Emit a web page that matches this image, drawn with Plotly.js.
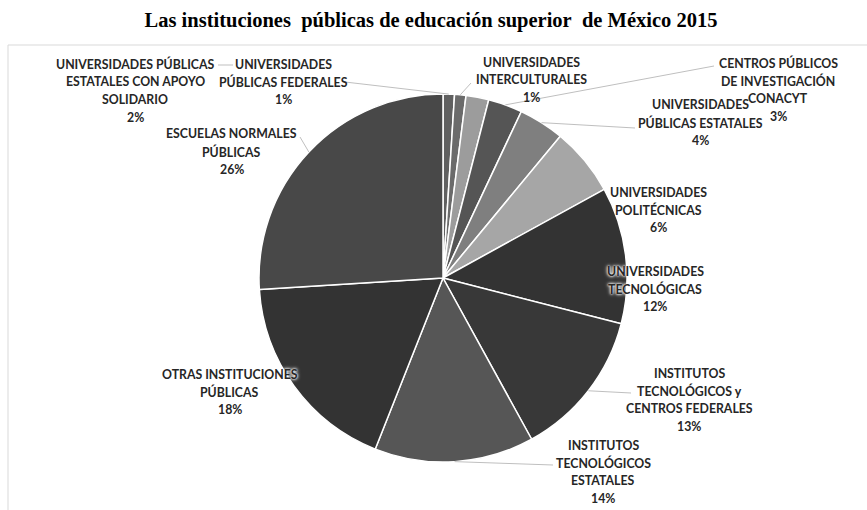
<!DOCTYPE html>
<html><head><meta charset="utf-8">
<script src="https://cdn.plot.ly/plotly-3.0.1.min.js"></script>
<style>html,body{margin:0;padding:0;background:#fff}#chart{width:867px;height:510px}</style>
</head><body><div id="chart"></div><script>
// ---- data ----
const categories = [
  'UNIVERSIDADES PÚBLICAS FEDERALES',
  'UNIVERSIDADES INTERCULTURALES',
  'UNIVERSIDADES PÚBLICAS ESTATALES CON APOYO SOLIDARIO',
  'CENTROS PÚBLICOS DE INVESTIGACIÓN CONACYT',
  'UNIVERSIDADES PÚBLICAS ESTATALES',
  'UNIVERSIDADES POLITÉCNICAS',
  'UNIVERSIDADES TECNOLÓGICAS',
  'INSTITUTOS TECNOLÓGICOS y CENTROS FEDERALES',
  'INSTITUTOS TECNOLÓGICOS ESTATALES',
  'OTRAS INSTITUCIONES PÚBLICAS',
  'ESCUELAS NORMALES PÚBLICAS'
];
const values = [1, 1, 2, 3, 4, 6, 12, 13, 14, 18, 26];
const labelLines = [
  ['UNIVERSIDADES', 'PÚBLICAS FEDERALES'],
  ['UNIVERSIDADES', 'INTERCULTURALES'],
  ['UNIVERSIDADES PÚBLICAS', 'ESTATALES CON APOYO', 'SOLIDARIO'],
  ['CENTROS PÚBLICOS', 'DE INVESTIGACIÓN', 'CONACYT'],
  ['UNIVERSIDADES', 'PÚBLICAS ESTATALES'],
  ['UNIVERSIDADES', 'POLITÉCNICAS'],
  ['UNIVERSIDADES', 'TECNOLÓGICAS'],
  ['INSTITUTOS', 'TECNOLÓGICOS y', 'CENTROS FEDERALES'],
  ['INSTITUTOS', 'TECNOLÓGICOS', 'ESTATALES'],
  ['OTRAS INSTITUCIONES', 'PÚBLICAS'],
  ['ESCUELAS NORMALES', 'PÚBLICAS']
];
const titleText = 'Las instituciones\u00A0 públicas de educación superior\u00A0 de México 2015';

// ---- style / layout ----
const W = 867, H = 510;
const CX = 443, CY = 278, R = 184;
const colors = ['#606060','#6b6b6b','#9c9c9c','#555555','#7f7f7f','#a6a6a6',
                '#333333','#383838','#565656','#333333','#484848'];
// label block positions (center x, first line y) in pixels
const labelPos = [[283,64],[531,62],[135,64],[778,63],[700,105],[658,192],
                  [655,271],[689,373],[603,445],[230,374],[232,134]];
// label-side end of leader lines (null = no leader)
const leaderFrom = [[345,82],[471,83],null,[714,66],[635,128],null,
                    null,[631,393],[553,465],null,[300,137]];
const haloed = [6, 9];
const LINE = 17.7;

const px = x => x / W, py = y => 1 - y / H;
const total = values.reduce((a, b) => a + b, 0);
let cum = 0;
const mids = values.map(v => { const m = (cum + v / 2) / total; cum += v; return m; });
const arcPoint = f => { const a = f * 2 * Math.PI; return [CX + R * Math.sin(a), CY - R * Math.cos(a)]; };

const annotations = [];
const shapes = [];
categories.forEach((c, i) => {
  const lines = labelLines[i].concat([Math.round(values[i] / total * 100) + '%']);
  const [lx, ly] = labelPos[i];
  lines.forEach((t, k) => {
    annotations.push({
      xref: 'paper', yref: 'paper', x: px(lx), y: py(ly + k * LINE),
      xanchor: 'center', yanchor: 'middle', showarrow: false, text: t,
      font: {family: 'Lato, "Open Sans", sans-serif', size: 12.3, weight: 700, color: '#262626',
             shadow: haloed.includes(i) ? '0 0 2px #fff, 0 0 3px #fff, 0 0 4px #fff' : 'none'}
    });
  });
  if (leaderFrom[i]) {
    const [ex, ey] = arcPoint(mids[i]);
    shapes.push({type: 'line', xref: 'paper', yref: 'paper',
      x0: px(leaderFrom[i][0]), y0: py(leaderFrom[i][1]), x1: px(ex), y1: py(ey),
      line: {color: '#bfbfbf', width: 1}});
  }
});
// short leader for the "apoyo solidario" label
shapes.push({type: 'line', xref: 'paper', yref: 'paper', x0: px(218), y0: py(65), x1: px(233), y1: py(65),
  line: {color: '#bfbfbf', width: 1}});
// chart border (top and left)
shapes.push({type: 'line', xref: 'paper', yref: 'paper', x0: px(8), y0: py(45), x1: 1.01, y1: py(45),
  line: {color: '#d9d9d9', width: 1}});
shapes.push({type: 'line', xref: 'paper', yref: 'paper', x0: px(8), y0: py(45), x1: px(8), y1: -0.01,
  line: {color: '#d9d9d9', width: 1}});

const trace = {
  type: 'pie', labels: categories, values: values, sort: false, direction: 'clockwise', rotation: 0,
  marker: {colors: colors, line: {color: '#ffffff', width: 1.5}},
  textinfo: 'none', hoverinfo: 'none', showlegend: false,
  domain: {x: [px(CX - R), px(CX + R)], y: [py(CY + R), py(CY - R)]}
};

const layout = {
  width: W, height: H, margin: {l: 0, r: 0, t: 0, b: 0},
  paper_bgcolor: '#ffffff', plot_bgcolor: '#ffffff', showlegend: false,
  title: {text: titleText, x: 431 / W, xanchor: 'center', y: 1 - 20 / H, yanchor: 'middle',
          font: {family: '"Liberation Serif", "Times New Roman", serif', size: 20.5, weight: 700, color: '#000000'}},
  annotations: annotations, shapes: shapes
};

Plotly.newPlot('chart', [trace], layout, {displayModeBar: false, staticPlot: true});
</script></body></html>
